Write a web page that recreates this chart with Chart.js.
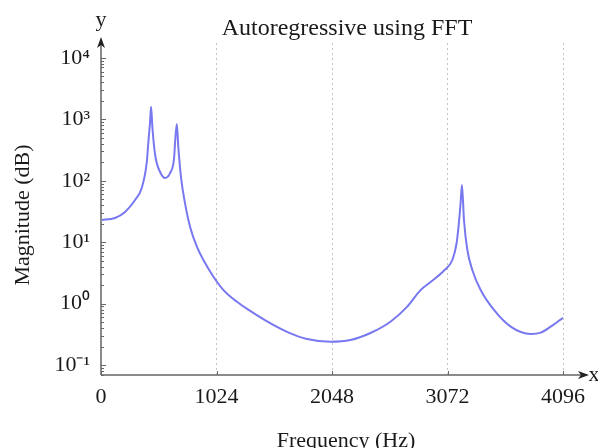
<!DOCTYPE html>
<html>
<head>
<meta charset="utf-8">
<script src="https://cdn.jsdelivr.net/npm/chart.js@4/dist/chart.umd.min.js"></script>
<style>
html,body{margin:0;padding:0;background:#fff;}
#wrap{width:598px;height:448px;position:relative;}
</style>
</head>
<body>
<div id="wrap"><canvas id="c" width="598" height="448"></canvas></div>
<script>
// ---- data ----
const freqs = [0,124,213,302,361,406,420,435,444,456,480,524,568,613,648,657,672,686,710,746,790,850,908,997,1086,1205,1323,1472,1649,1827,2034,2211,2389,2566,2715,2833,2922,3037,3115,3153,3173,3188,3200,3218,3248,3292,3366,3484,3632,3810,3899,3987,4096];
const magnitudes = [23.0,24.8,31.0,48.7,76.3,202,428,908,1610,724,263,139,111,134,235,428,842,342,111,42.0,17.7,8.45,5.13,2.74,1.66,1.07,0.759,0.513,0.347,0.265,0.239,0.255,0.332,0.507,0.891,1.66,2.25,3.40,5.13,9.70,20.6,43.5,85.5,23.0,7.46,3.53,1.66,0.787,0.421,0.320,0.336,0.421,0.589];
const xTicks = [0,1024,2048,3072,4096];
const yExponents = [-1,0,1,2,3,4];
const yTickLabels = ['10\u207B\u00B9','10\u2070','10\u00B9','10\u00B2','10\u00B3','10\u2074'];
const titleText = 'Autoregressive using FFT';
const xTitle = 'Frequency (Hz)';
const yTitle = 'Magnitude (dB)';

const FONT = '"Liberation Serif", "Times New Roman", serif';
const AXIS = '#8a8a8a';

const points = freqs.map((f,i)=>({x:f,y:magnitudes[i]}));

const decor = {
  id:'decor',
  afterDraw(chart){
    const ctx = chart.ctx, xs = chart.scales.x, ys = chart.scales.y, a = chart.chartArea;
    ctx.save();
    // axes lines
    ctx.strokeStyle = AXIS; ctx.lineWidth = 2;
    ctx.beginPath();
    ctx.moveTo(a.left, a.bottom); ctx.lineTo(a.left, a.top - 2);
    ctx.moveTo(a.left, a.bottom); ctx.lineTo(584, a.bottom);
    ctx.stroke();
    // arrows
    ctx.fillStyle = '#222';
    ctx.beginPath();
    ctx.moveTo(a.left, a.top - 6); ctx.lineTo(a.left - 4, a.top + 5); ctx.lineTo(a.left, a.top + 2); ctx.lineTo(a.left + 4, a.top + 5); ctx.closePath();
    ctx.fill();
    ctx.beginPath();
    ctx.moveTo(589, a.bottom); ctx.lineTo(578, a.bottom - 4); ctx.lineTo(581, a.bottom); ctx.lineTo(578, a.bottom + 4); ctx.closePath();
    ctx.fill();
    // minor/major ticks on y axis
    ctx.strokeStyle = '#666'; ctx.lineWidth = 1;
    for (let e = -2; e <= 4; e++) {
      for (let m = 1; m <= 9; m++) {
        const v = m * Math.pow(10, e);
        if (v < ys.min || v > ys.max) continue;
        const py = Math.round(ys.getPixelForValue(v)) + 0.5;
        ctx.beginPath(); ctx.moveTo(a.left, py); ctx.lineTo(a.left + (m === 1 ? 5 : 3), py); ctx.stroke();
      }
    }
    // x ticks
    xTicks.forEach(t => {
      const px = Math.round(xs.getPixelForValue(t)) + 0.5;
      ctx.beginPath(); ctx.moveTo(px, a.bottom); ctx.lineTo(px, a.bottom - 4); ctx.stroke();
    });
    // texts
    ctx.fillStyle = '#1a1a1a';
    ctx.textAlign = 'center'; ctx.textBaseline = 'alphabetic';
    ctx.font = '24px ' + FONT;
    ctx.fillText(titleText, 347, 35);
    ctx.font = '22px ' + FONT;
    ctx.fillText(xTitle, 346, 447);
    ctx.fillText('y', a.left, 26);
    ctx.fillText('x', 594, a.bottom + 6);
    ctx.save();
    ctx.translate(29, 215); ctx.rotate(-Math.PI/2);
    ctx.fillText(yTitle, 0, 0);
    ctx.restore();
    ctx.restore();
  }
};

new Chart(document.getElementById('c'), {
  type:'line',
  data:{datasets:[{
    data: points,
    borderColor:'rgb(120,120,240)',
    borderWidth:2,
    pointRadius:0,
    fill:false,
    cubicInterpolationMode:'monotone'
  }]},
  options:{
    responsive:false,
    animation:false,
    events:[],
    layout:{padding:{top:43,right:35,bottom:0,left:0}},
    plugins:{legend:{display:false},tooltip:{enabled:false},title:{display:false}},
    scales:{
      x:{
        type:'linear', min:0, max:4096,
        afterBuildTicks(s){ s.ticks = xTicks.map(v=>({value:v})); },
        afterFit(s){ s.height = 73; },
        grid:{display:true, drawTicks:false, color:'#c4c4c4', lineWidth:1},
        border:{display:false, dash:[2,3]},
        ticks:{padding:9, color:'#1a1a1a', font:{family:FONT, size:22}, maxRotation:0, autoSkip:false,
          callback:(v)=>String(v)}
      },
      y:{
        type:'logarithmic',
        min: Math.pow(10,-1.163), max: Math.pow(10,4.244),
        afterBuildTicks(s){ s.ticks = yExponents.map(e=>({value:Math.pow(10,e)})); },
        afterFit(s){ s.width = 101; },
        grid:{display:false, drawTicks:false},
        border:{display:false},
        ticks:{padding:11, color:'#1a1a1a', font:{family:FONT, size:22}, autoSkip:false,
          callback:(v)=>{ const i = yExponents.indexOf(Math.round(Math.log10(v))); return i>=0 ? yTickLabels[i] : ''; }}
      }
    }
  },
  plugins:[decor]
});
</script>
</body>
</html>
